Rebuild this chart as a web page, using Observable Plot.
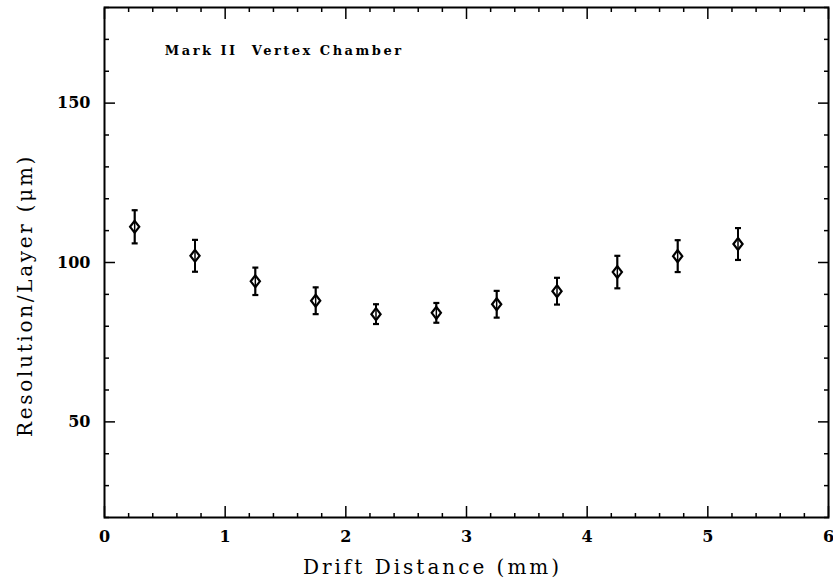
<!DOCTYPE html>
<html>
<head>
<meta charset="utf-8">
<script src="https://cdn.jsdelivr.net/npm/d3@7"></script>
<script src="https://cdn.jsdelivr.net/npm/@observablehq/plot@0.6"></script>
<style>
  html, body { margin: 0; padding: 0; background: #fff; }
  #chart svg { display: block; }
</style>
</head>
<body>
<div id="chart"></div>
<script>
// Single-hit resolution per layer versus drift distance
const drift = [0.25, 0.75, 1.25, 1.75, 2.25, 2.75, 3.25, 3.75, 4.25, 4.75, 5.25];
const resolution = [111.2, 102.1, 94.1, 88.0, 83.8, 84.2, 86.9, 91.0, 97.0, 102.0, 105.8];
const errorBar = [5.2, 5.0, 4.3, 4.2, 3.1, 3.1, 4.2, 4.2, 5.1, 5.0, 5.0];

// Axis ticks
const xMajor = [0, 1, 2, 3, 4, 5, 6];
const xMinor = d3.range(0, 30).map(i => i / 5).filter(v => Math.abs(v - Math.round(v)) > 1e-9);
const yMajor = [50, 100, 150];
const yMinor = d3.range(20, 181, 10).filter(v => v % 50 !== 0);

const titleText = [{label: "Mark II  Vertex Chamber", x: 0.5, y: 165}];
const xTitle = "Drift Distance (mm)";
const yTitle = "Resolution/Layer (\u03BCm)";

// letter spacing per text, to give the wide typewriter look
const spacing = new Map([[titleText[0].label, "2.5px"], [xTitle, "3px"], [yTitle, "2.7px"]]);

const points = drift.map((x, i) => ({
  x, y: resolution[i], lo: resolution[i] - errorBar[i], hi: resolution[i] + errorBar[i]
}));

// Tall open diamond and short horizontal cap
const tallDiamond = {
  draw(ctx, size) {
    const r = Math.sqrt(size / Math.PI);
    ctx.moveTo(0, -1.3 * r);
    ctx.lineTo(r, 0);
    ctx.lineTo(0, 1.3 * r);
    ctx.lineTo(-r, 0);
    ctx.closePath();
  }
};
const capLine = {
  draw(ctx, size) {
    const r = Math.sqrt(size / Math.PI);
    ctx.moveTo(-r, 0);
    ctx.lineTo(r, 0);
  }
};

const font = "'DejaVu Serif', serif";
const blank = () => "";

const chart = Plot.plot({
  width: 833,
  height: 582,
  marginLeft: 104,
  marginRight: 5,
  marginTop: 7,
  marginBottom: 65,
  style: {fontFamily: font, fontSize: "16px", fontWeight: "bold", color: "#000", background: "#fff"},
  x: {domain: [0, 6]},
  y: {domain: [20, 180]},
  marks: [
    // inward ticks on all four sides
    Plot.axisX(xMajor, {anchor: "bottom", tickSize: -11, tickFormat: blank, strokeWidth: 1.5, label: null}),
    Plot.axisX(xMinor, {anchor: "bottom", tickSize: -4, tickFormat: blank, strokeWidth: 1.5, label: null}),
    Plot.axisX(xMajor, {anchor: "top", tickSize: -11, tickFormat: blank, strokeWidth: 1.5, label: null}),
    Plot.axisX(xMinor, {anchor: "top", tickSize: -4, tickFormat: blank, strokeWidth: 1.5, label: null}),
    Plot.axisY(yMajor, {anchor: "left", tickSize: -11, tickFormat: blank, strokeWidth: 1.5, label: null}),
    Plot.axisY(yMinor, {anchor: "left", tickSize: -5, tickFormat: blank, strokeWidth: 1.5, label: null}),
    Plot.axisY(yMajor, {anchor: "right", tickSize: -11, tickFormat: blank, strokeWidth: 1.5, label: null}),
    Plot.axisY(yMinor, {anchor: "right", tickSize: -5, tickFormat: blank, strokeWidth: 1.5, label: null}),
    // tick labels
    Plot.axisX(xMajor, {anchor: "bottom", tickSize: 0, tickPadding: 13, label: null, tickFormat: d3.format("d"),
      fontSize: 16, fontWeight: "bold"}),
    Plot.axisY(yMajor, {anchor: "left", tickSize: 0, tickPadding: 14, label: null, tickFormat: d3.format("d"),
      fontSize: 16, fontWeight: "bold"}),
    Plot.frame({stroke: "#000", strokeWidth: 2}),
    // error bars with caps
    Plot.ruleX(points, {x: "x", y1: "lo", y2: "hi", stroke: "#000", strokeWidth: 2}),
    Plot.dot(points, {x: "x", y: "lo", symbol: capLine, r: 3, stroke: "#000", strokeWidth: 2.2}),
    Plot.dot(points, {x: "x", y: "hi", symbol: capLine, r: 3, stroke: "#000", strokeWidth: 2.2}),
    // data points
    Plot.dot(points, {x: "x", y: "y", symbol: tallDiamond, r: 4.6, stroke: "#000", fill: "#fff", strokeWidth: 2.2}),
    Plot.ruleX(points, {x: "x", y1: "lo", y2: "hi", stroke: "#000", strokeWidth: 1.5}),
    // annotation
    Plot.text(titleText, {x: "x", y: "y", text: "label", textAnchor: "start", lineAnchor: "bottom",
      fontSize: 13, fontWeight: "bold", fontFamily: font}),
    // axis titles
    Plot.text([xTitle], {frameAnchor: "bottom", textAnchor: "middle", lineAnchor: "bottom", dy: 56, dx: -34,
      fontSize: 20, fontWeight: "normal", fontFamily: font}),
    Plot.text([yTitle], {frameAnchor: "left", textAnchor: "middle", lineAnchor: "bottom", dx: -73, dy: 33, rotate: -90,
      fontSize: 20, fontWeight: "normal", fontFamily: font})
  ]
});

d3.select(chart).selectAll("text").each(function () {
  const s = spacing.get(this.textContent);
  if (s) this.setAttribute("letter-spacing", s);
});

document.getElementById("chart").appendChild(chart);
</script>
</body>
</html>
